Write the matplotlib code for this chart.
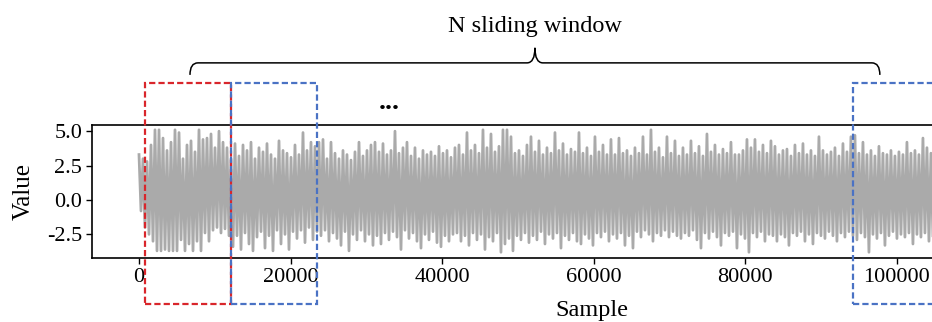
import numpy as np
import matplotlib
matplotlib.use('Agg')
import matplotlib.pyplot as plt
from matplotlib.patches import Rectangle, PathPatch
from matplotlib.path import Path

plt.rcParams['font.family'] = ['Liberation Serif', 'DejaVu Serif']
plt.rcParams['axes.unicode_minus'] = False

# ---- data: per-bin peak (high) and trough (low) values ----
samples_per_bin = 528
peak_hi = [
    3.3, 3.0, 2.8, 4.0, 5.1, 5.1, 4.5, 3.6, 4.2, 5.1, 4.9, 3.0, 4.0, 4.3, 3.5, 5.1,
    4.4, 4.5, 4.8, 3.8, 5.0, 4.2, 3.8, 3.0,
    4.1, 3.2, 4.0, 3.6, 4.2, 3.0, 3.8, 3.5, 4.1, 3.3, 3.0, 4.3, 3.6, 3.4, 3.1, 4.0,
    3.3, 4.9, 3.6, 4.2, 3.9,
    4.2, 4.4, 3.0, 4.2, 3.4, 3.0, 3.6, 3.3, 2.9, 3.5, 4.2, 3.2, 3.6, 4.0, 4.2, 3.5,
    4.1, 3.3, 3.6, 5.0, 3.4, 3.8, 4.2, 3.2, 3.8, 3.0, 3.6, 3.3, 3.5, 3.2, 3.9, 3.4,
    3.6, 3.1,
    3.8, 4.0, 3.3, 4.9, 3.6, 4.0, 3.4, 5.1, 3.8, 4.8, 3.5, 3.9, 5.1, 5.1, 4.6, 3.4,
    3.6, 3.2, 4.0, 4.6, 3.5, 4.3, 3.3, 3.8, 3.4, 4.9, 3.6, 4.1, 3.3, 3.7, 3.5, 4.9,
    3.4, 3.8, 3.2, 4.6, 3.5, 4.0, 3.3, 4.4,
    3.3, 4.5, 3.4, 3.6, 3.2, 3.8, 3.4, 4.6, 3.3, 5.1, 3.5, 3.8, 3.1, 4.6, 3.4, 4.3,
    3.2, 3.8, 3.3, 4.3, 3.4, 3.9, 3.2, 4.8, 3.5, 4.0, 3.3, 3.7, 3.4, 4.2, 3.3, 3.3,
    3.6, 4.4, 3.8, 4.4, 3.5, 4.0, 3.4, 4.3,
    3.9, 3.3, 3.6, 3.7, 3.2, 4.0, 3.4, 4.1, 3.3, 3.6, 3.2, 4.6, 3.6, 3.3, 3.5, 3.8,
    3.2, 4.1, 3.5, 4.6, 4.7, 3.4, 4.2, 3.3, 3.6, 3.2, 3.9, 3.4, 3.3, 3.6, 3.2, 3.5,
    3.3, 4.2, 3.4, 3.6, 3.3, 4.5, 3.8, 3.4,
]
peak_lo = [
    -0.8, -2.0, -2.5, -3.0, -3.7, -3.7, -3.6, -3.7, -3.7, -3.7, -2.9, -3.7, -3.2, -3.7,
    -3.0, -3.7, -2.4, -3.0, -2.2, -2.0, -2.4, -2.1, -2.6, -3.4,
    -2.6, -3.6, -2.4, -3.2, -3.7, -2.7, -2.3, -3.5, -2.6, -3.7, -2.2, -3.2, -2.5, -3.6,
    -2.3, -2.8, -2.2, -3.1, -2.0, -2.9, -2.3,
    -2.6, -2.2, -3.0, -2.4, -2.8, -3.3, -2.3, -3.7, -2.5, -2.9, -2.2, -3.0, -2.5, -3.3,
    -2.6, -3.2, -2.4, -2.9, -2.3, -2.7, -3.6, -2.2, -2.8, -2.4, -3.0, -3.5, -2.5, -2.9,
    -2.3, -3.1, -3.4, -2.6, -3.0, -2.5,
    -2.4, -3.0, -2.6, -3.3, -2.4, -2.9, -2.5, -3.6, -2.7, -3.0, -2.4, -3.8, -3.2, -2.8,
    -3.7, -2.6, -2.9, -2.4, -3.1, -2.6, -2.9, -2.3, -3.2, -2.5, -2.8, -2.4, -3.5, -2.6,
    -2.9, -2.4, -3.0, -3.2, -2.5, -2.8, -3.3, -2.4, -2.7, -2.3, -3.0, -2.5,
    -2.8, -2.4, -3.3, -2.6, -3.5, -2.3, -2.7, -2.2, -2.5, -3.0, -2.4, -2.6, -2.2, -2.7,
    -2.3, -2.6, -2.8, -2.4, -2.6, -2.2, -2.9, -3.5, -2.4, -2.8, -2.3, -2.7, -3.3, -2.4,
    -2.6, -2.3, -3.5, -2.5, -2.8, -3.8, -2.4, -2.7, -2.3, -3.0, -2.5, -2.6,
    -3.0, -2.5, -2.7, -3.3, -2.4, -2.6, -2.3, -3.0, -2.5, -3.2, -2.4, -2.6, -2.8, -2.3,
    -2.6, -3.0, -2.4, -2.7, -2.3, -2.6, -2.9, -2.4, -2.7, -3.8, -2.5, -2.8, -2.4, -3.3,
    -2.6, -2.3, -2.8, -2.5, -2.7, -2.4, -3.2, -2.5, -2.7, -2.4, -3.0, -2.6,
]

window_len = 11350
window_starts = [800, 12150, 94250]
window_colors = ['#d9262b', '#4a72c4', '#4a72c4']
brace_span = [6730, 97800]
brace_label = 'N sliding window'
xticks = [0, 20000, 40000, 60000, 80000, 100000]
yticks = [-2.5, 0.0, 2.5, 5.0]

# ---- build the signal (alternating peak / trough per bin) ----
hi = np.asarray(peak_hi)
lo = np.asarray(peak_lo)
n = min(len(hi), len(lo))
xs = np.empty(2 * n)
ys = np.empty(2 * n)
xs[0::2] = np.arange(n) * samples_per_bin
xs[1::2] = np.arange(n) * samples_per_bin + samples_per_bin / 2
ys[0::2] = hi[:n]
ys[1::2] = lo[:n]

W, H = 932, 322
fig = plt.figure(figsize=(W / 100, H / 100), dpi=100)
ax_w_px = 1000
ax = fig.add_axes([92 / W, (H - 258.3) / H, ax_w_px / W, 133.3 / H])
ax.plot(xs, ys, color='#aaaaaa', lw=2.0, zorder=2)

x_left = -6205
ax.set_xlim(x_left, x_left + ax_w_px * 132.01)
ax.set_ylim(-4.24, 5.45)
ax.set_xticks(xticks)
ax.set_xticklabels([str(t) for t in xticks])
ax.set_yticks(yticks)
ax.set_yticklabels([f'{t:.1f}' for t in yticks])
ax.tick_params(labelsize=16, length=4, width=1.0, pad=3)
for s in ax.spines.values():
    s.set_linewidth(1.2)
ax.set_xlabel('Sample', fontsize=17.5, labelpad=9)
ax.set_ylabel('Value', fontsize=18, labelpad=9)

# ---- sliding windows ----
tr = ax.get_xaxis_transform()
y_bot, y_top = -0.346, 1.316
for st, col in zip(window_starts, window_colors):
    ax.add_patch(Rectangle((st, y_bot), window_len, y_top - y_bot, transform=tr,
                           fill=False, edgecolor=col, lw=1.6, ls=(0, (2.8, 1.4)),
                           clip_on=False, zorder=5))

# ---- curly brace ----
x0, x1 = brace_span
xm = (x0 + x1) / 2
r = 1050
yl, yb, yt = 1.466, 1.376, 1.579
verts = [(x0, yb), (x0, yl), (x0 + r, yl),
         (xm - r, yl),
         (xm, yl), (xm, yt),
         (xm, yl), (xm + r, yl),
         (x1 - r, yl),
         (x1, yl), (x1, yb)]
codes = [Path.MOVETO, Path.CURVE3, Path.CURVE3,
         Path.LINETO,
         Path.CURVE3, Path.CURVE3,
         Path.CURVE3, Path.CURVE3,
         Path.LINETO,
         Path.CURVE3, Path.CURVE3]
ax.add_patch(PathPatch(Path(verts, codes), transform=tr, fill=False,
                       edgecolor='black', lw=1.1, clip_on=False, zorder=5))
ax.text(xm, 1.66, brace_label, transform=tr, ha='center', va='bottom', fontsize=17.5)
ax.text(33000, 1.12, '...', transform=tr, ha='center', va='baseline',
        fontsize=20, fontweight='bold')

fig.savefig('out.png', dpi=100)
